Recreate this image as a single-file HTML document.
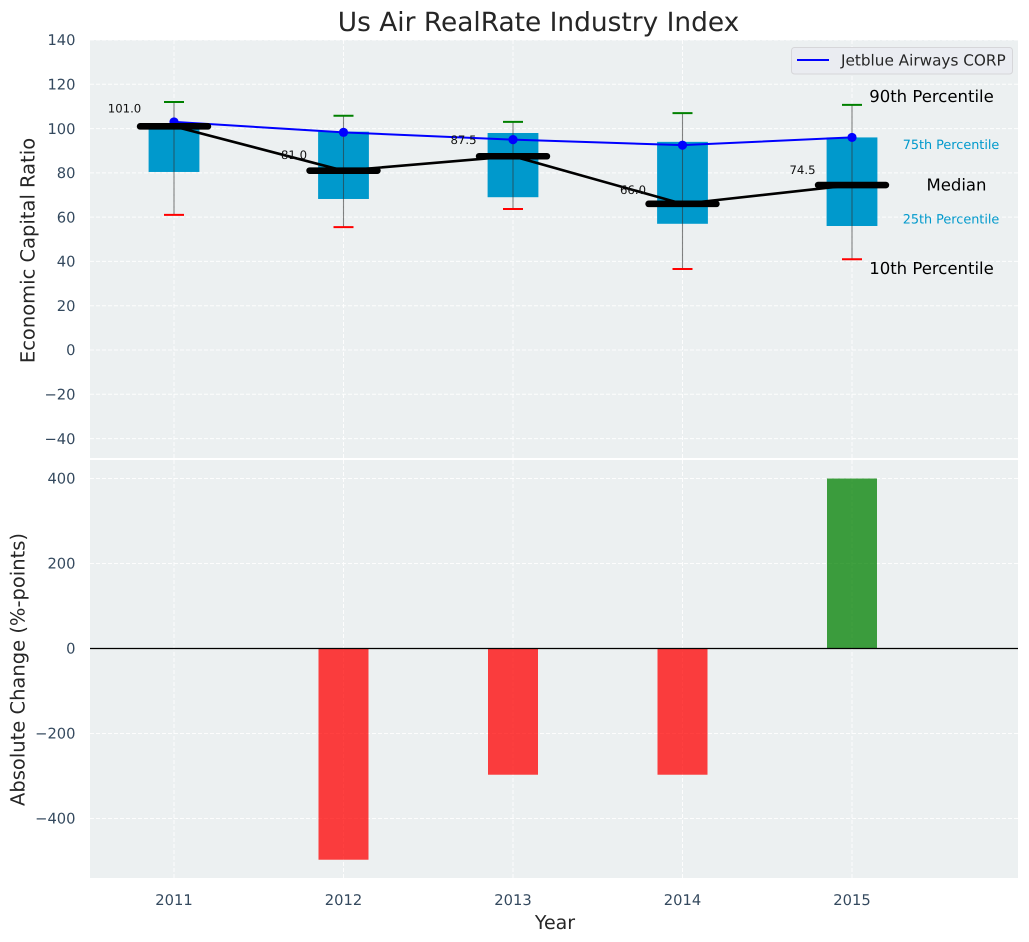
<!DOCTYPE html>
<html lang="en">
<head>
<meta charset="utf-8">
<title>Us Air RealRate Industry Index</title>
<style>
html,body{margin:0;padding:0;background:#fff;width:1029px;height:942px;overflow:hidden}
svg{display:block;font-family:"DejaVu Sans","Liberation Sans",sans-serif;text-rendering:geometricPrecision}
</style>
</head>
<body>
<svg id="chart" width="1029" height="942" viewBox="0 0 1029 942" xmlns="http://www.w3.org/2000/svg">
<rect x="90" y="40" width="928" height="418" fill="#ecf0f1"/>
<rect x="90" y="460" width="928" height="418" fill="#ecf0f1"/>
<g id="grid"></g>
<g id="top"></g>
<g id="bottom"></g>
<g id="axes"></g>
<text x="538.5" y="31" text-anchor="middle" font-size="26.4" fill="#262626">Us Air RealRate Industry Index</text>
<text transform="translate(34.5,250.5) rotate(-90)" text-anchor="middle" font-size="19.5" fill="#262626">Economic Capital Ratio</text>
<text transform="translate(24.5,669.5) rotate(-90)" text-anchor="middle" font-size="19.5" fill="#262626">Absolute Change (%-points)</text>
<text x="555" y="929" text-anchor="middle" font-size="19" fill="#262626">Year</text>
<g>
<rect x="791.5" y="47.5" width="221" height="26.5" rx="3" fill="#eaecf1" stroke="#d6d6d9" stroke-width="1"/>
<line x1="797" y1="60" x2="829" y2="60" stroke="#0000ff" stroke-width="2"/>
<text x="841" y="65.5" font-size="15.25" fill="#262626">Jetblue Airways CORP</text>
</g>
</svg>
<script>
const categories = [2011, 2012, 2013, 2014, 2015];
const p90Values = [112, 105.8, 103, 107, 110.7];
const p75Values = [102.5, 98.6, 98, 94, 96];
const medianValues = [101, 81, 87.5, 66, 74.5];
const p25Values = [80.4, 68.2, 69, 57, 56];
const p10Values = [61, 55.5, 63.7, 36.6, 41];
const companyValues = [103, 98.3, 95, 92.5, 96];
const changeValues = [0, -497, -297, -297, 400];
const topTicks = [140, 120, 100, 80, 60, 40, 20, 0, -20, -40];
const bottomTicks = [400, 200, 0, -200, -400];

const NS = 'http://www.w3.org/2000/svg';
const xScale = v => 174 + (v - 2011) * 169.5;
const yTop = v => 350 - v * 2.2143;
const yBottom = v => 648.5 - v * 0.425;
const gridG = document.getElementById('grid');
const topG = document.getElementById('top');
const bottomG = document.getElementById('bottom');
const axesG = document.getElementById('axes');

function mk(parent, tag, props, content) {
  const el = document.createElementNS(NS, tag);
  for (const k in props) el.setAttribute(k, props[k]);
  if (content !== undefined) el.textContent = content;
  parent.appendChild(el);
  return el;
}
const tickText = v => String(v).replace('-', '\u2212');
const gridStyle = {stroke: '#ffffff', 'stroke-width': 1, 'stroke-dasharray': '4 2', opacity: 0.9};

topTicks.forEach(t => {
  const gl = mk(gridG, 'line', {x1: 90, x2: 1018, y1: yTop(t), y2: yTop(t), ...gridStyle});
  
  
  const lb = mk(axesG, 'text', {x: 75.5, y: yTop(t) + 5.2, 'text-anchor': 'end', 'font-size': 14.7, fill: '#34495e'}, tickText(t));
  
  
});
bottomTicks.forEach(t => {
  const gl = mk(gridG, 'line', {x1: 90, x2: 1018, y1: yBottom(t), y2: yBottom(t), ...gridStyle});
  
  
  const lb = mk(axesG, 'text', {x: 75.5, y: yBottom(t) + 5.2, 'text-anchor': 'end', 'font-size': 14.7, fill: '#34495e'}, tickText(t));
  
  
});
categories.forEach(c => {
  const g1 = mk(gridG, 'line', {x1: xScale(c), x2: xScale(c), y1: 40, y2: 458, ...gridStyle});
  
  
  const g2 = mk(gridG, 'line', {x1: xScale(c), x2: xScale(c), y1: 460, y2: 878, ...gridStyle});
  
  
  const lb = mk(axesG, 'text', {x: xScale(c), y: 905, 'text-anchor': 'middle', 'font-size': 14.7, fill: '#34495e'}, String(c));
  
  
});

categories.forEach((c, i) => {
  const x = xScale(c);
  const box = mk(topG, 'rect', {x: x - 25.4, width: 50.8, y: yTop(p75Values[i]), height: yTop(p25Values[i]) - yTop(p75Values[i]), fill: '#0099cc'});
  
  
});
const blackPts = categories.map((c, i) => xScale(c) + ',' + yTop(medianValues[i])).join(' ');
const medianLine = mk(topG, 'polyline', {points: blackPts, fill: 'none', stroke: '#000', 'stroke-width': 2.6});


categories.forEach((c, i) => {
  const x = xScale(c);
  const wh = mk(topG, 'line', {x1: x, x2: x, y1: yTop(p90Values[i]), y2: yTop(p10Values[i]), stroke: '#333', 'stroke-width': 1.1, opacity: 0.6});
  
  
  const hi = mk(topG, 'line', {x1: x - 10, x2: x + 10, y1: yTop(p90Values[i]), y2: yTop(p90Values[i]), stroke: '#008000', 'stroke-width': 2});
  
  
  const lo = mk(topG, 'line', {x1: x - 10, x2: x + 10, y1: yTop(p10Values[i]), y2: yTop(p10Values[i]), stroke: '#ff0000', 'stroke-width': 2});
  
  
});
const bluePts = categories.map((c, i) => xScale(c) + ',' + yTop(companyValues[i])).join(' ');
const blueLine = mk(topG, 'polyline', {points: bluePts, fill: 'none', stroke: '#0000ff', 'stroke-width': 2});


categories.forEach((c, i) => {
  const x = xScale(c);
  const m = medianValues[i];
  const dot = mk(topG, 'circle', {cx: x, cy: yTop(companyValues[i]), r: 4.6, fill: '#0000ff'});
  
  
  const lb = mk(topG, 'text', {x: x - 49.5, y: yTop(m * 1.05 + 3.1) + 4.3, 'text-anchor': 'middle', 'font-size': 11.7, fill: '#111'}, m.toFixed(1));
  
  
  const med = mk(topG, 'line', {x1: x - 33.9, x2: x + 33.9, y1: yTop(m), y2: yTop(m), stroke: '#000', 'stroke-width': 6.6, 'stroke-linecap': 'round'});
  
  
});

const last = categories.length - 1;
const annotations = [
  ['90th Percentile', 931.5, yTop(p90Values[last]) - 9, 16.5, '#000', 'p90-annotation'],
  ['75th Percentile', 951, yTop(p75Values[last]) + 7, 12.8, '#0099cc', 'p75-annotation'],
  ['Median', 956.5, yTop(medianValues[last]) - 0.5, 16.5, '#000', 'median-annotation'],
  ['25th Percentile', 951, yTop(p25Values[last]) - 7, 12.8, '#0099cc', 'p25-annotation'],
  ['10th Percentile', 931.5, yTop(p10Values[last]) + 8.5, 16.5, '#000', 'p10-annotation']
];
annotations.forEach(a => {
  const t = mk(topG, 'text', {x: a[1], y: a[2] + a[3] * 0.37, 'text-anchor': 'middle', 'font-size': a[3], fill: a[4]}, a[0]);
  
  
});

categories.forEach((c, i) => {
  const v = changeValues[i];
  if (v === 0) return;
  const x = xScale(c);
  const bar = mk(bottomG, 'rect', {x: x - 25, width: 50, y: Math.min(yBottom(v), yBottom(0)), height: Math.abs(yBottom(v) - yBottom(0)), fill: v > 0 ? '#008000' : '#ff0000', opacity: 0.75});
  
  
});
const zero = mk(bottomG, 'line', {x1: 90, x2: 1018, y1: yBottom(0), y2: yBottom(0), stroke: '#000', 'stroke-width': 1.2});


</script>
</body>
</html>
